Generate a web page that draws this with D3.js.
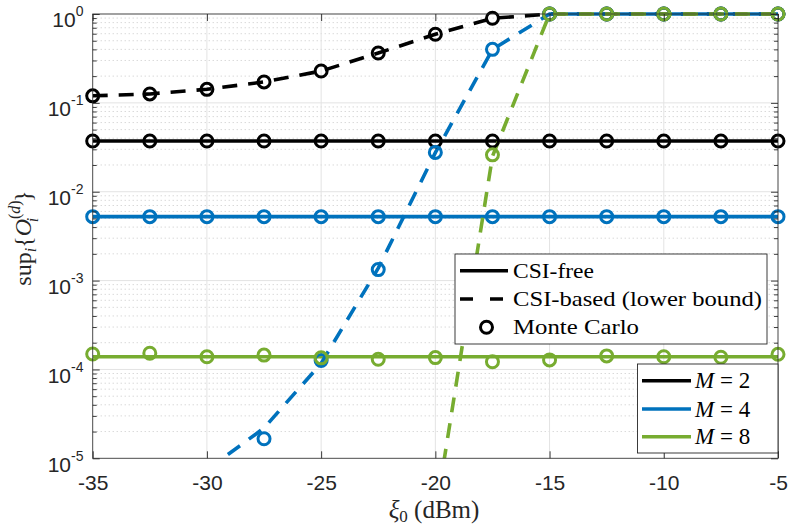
<!DOCTYPE html>
<html><head><meta charset="utf-8">
<script src="https://cdn.jsdelivr.net/npm/d3@7"></script>
<style>
html,body{margin:0;padding:0;background:#fff;}
svg{display:block;}
</style></head>
<body>
<svg id="c" width="789" height="527"></svg>
<script>
// ---------- data ----------
const xTicks = [-35, -30, -25, -20, -15, -10, -5];
const yTickExps = [0, -1, -2, -3, -4, -5];
const xs = [-35, -32.5, -30, -27.5, -25, -22.5, -20, -17.5, -15, -12.5, -10, -7.5, -5];

// CSI-free (analytical, constant)
const m2Free = [0.0372, 0.0372, 0.0372, 0.0372, 0.0372, 0.0372, 0.0372, 0.0372, 0.0372, 0.0372, 0.0372, 0.0372, 0.0372];
const m4Free = [5.24e-3, 5.24e-3, 5.24e-3, 5.24e-3, 5.24e-3, 5.24e-3, 5.24e-3, 5.24e-3, 5.24e-3, 5.24e-3, 5.24e-3, 5.24e-3, 5.24e-3];
const m8Free = [1.39e-4, 1.39e-4, 1.39e-4, 1.39e-4, 1.39e-4, 1.39e-4, 1.39e-4, 1.39e-4, 1.39e-4, 1.39e-4, 1.39e-4, 1.39e-4, 1.39e-4];

// CSI-based lower bound
const m2BasedX = xs;
const m2Based = [0.120, 0.126, 0.142, 0.172, 0.228, 0.364, 0.591, 0.895, 1, 1, 1, 1, 1];
const m4BasedX = [-30, -27.5, -25, -22.5, -20, -17.5, -15, -12.5, -10, -7.5, -5];
const m4Based = [7.4e-6, 2.19e-5, 1.17e-4, 1.38e-3, 0.0275, 0.398, 1, 1, 1, 1, 1];
const m8BasedX = [-20, -17.5, -15, -12.5, -10, -7.5, -5];
const m8Based = [2.3e-6, 0.025, 1, 1, 1, 1, 1];

// Monte Carlo (null = below the axis)
const mc2Free = [0.0372, 0.0372, 0.0372, 0.0372, 0.0372, 0.0372, 0.0372, 0.0372, 0.0372, 0.0372, 0.0372, 0.0372, 0.0372];
const mc2Based = [0.120, 0.126, 0.142, 0.172, 0.228, 0.364, 0.591, 0.895, 1, 1, 1, 1, 1];
const mc4Free = [5.24e-3, 5.24e-3, 5.24e-3, 5.24e-3, 5.24e-3, 5.24e-3, 5.24e-3, 5.24e-3, 5.24e-3, 5.24e-3, 5.24e-3, 5.24e-3, 5.24e-3];
const mc4Based = [null, null, null, 1.66e-5, 1.26e-4, 1.33e-3, 0.0277, 0.40, 1, 1, 1, 1, 1];
const mc8Free = [1.49e-4, 1.52e-4, 1.39e-4, 1.45e-4, 1.35e-4, 1.30e-4, 1.36e-4, 1.22e-4, 1.28e-4, 1.42e-4, 1.39e-4, 1.37e-4, 1.48e-4];
const mc8Based = [null, null, null, null, null, null, null, 0.026, 1, 1, 1, 1, 1];

const typeLabels = ["CSI-free", "CSI-based (lower bound)", "Monte Carlo"];
const mLabels = ["2", "4", "8"];
const colors = ["#000000", "#0072BD", "#77AC30"];

// ---------- layout ----------
const L = 92.7, R = 778, T = 14, B = 458.3;
const svg = d3.select("#c");
const x = d3.scaleLinear().domain([-35, -5]).range([L, R]);
const y = d3.scaleLog().domain([1e-5, 1]).range([B, T]);
const axisCol = "#262626";
const sans = "'Liberation Sans', Arial, Helvetica, sans-serif";
const serif = "'Liberation Serif', 'Times New Roman', serif";

// grid
const minorVals = [];
for (let e = -5; e < 0; e++) for (let k = 2; k <= 9; k++) minorVals.push(k * Math.pow(10, e));
const decades = yTickExps.map(e => Math.pow(10, e));
const g = svg.append("g");
g.selectAll(".mg").data(minorVals).enter().append("line")
  .attr("x1", L).attr("x2", R).attr("y1", d => y(d)).attr("y2", d => y(d))
  .attr("stroke", "#c8c8c8").attr("stroke-width", 1).attr("stroke-dasharray", "1,3");
g.selectAll(".Mg").data(decades).enter().append("line")
  .attr("x1", L).attr("x2", R).attr("y1", d => y(d)).attr("y2", d => y(d))
  .attr("stroke", "#e3e3e3").attr("stroke-width", 1);
g.selectAll(".Vg").data(xTicks).enter().append("line")
  .attr("y1", T).attr("y2", B).attr("x1", d => x(d)).attr("x2", d => x(d))
  .attr("stroke", "#e3e3e3").attr("stroke-width", 1);

// clip
svg.append("defs").append("clipPath").attr("id", "clip")
  .append("rect").attr("x", L).attr("y", T - 4).attr("width", R - L + 3).attr("height", B - T + 4);

const line = d3.line().x(d => x(d[0])).y(d => y(d[1]));
const pl = svg.append("g").attr("clip-path", "url(#clip)");
const LW = 3.6, DASH = "15,11";

const freeSeries = [m2Free, m4Free, m8Free];
freeSeries.forEach((s, i) => {
  pl.append("path").datum(xs.map((v, j) => [v, s[j]]))
    .attr("d", line).attr("fill", "none").attr("stroke", colors[i]).attr("stroke-width", LW);
});
const basedSeries = [[m2BasedX, m2Based], [m4BasedX, m4Based], [m8BasedX, m8Based]];
basedSeries.forEach((s, i) => {
  pl.append("path").datum(s[0].map((v, j) => [v, s[1][j]]))
    .attr("d", line).attr("fill", "none").attr("stroke", colors[i]).attr("stroke-width", LW)
    .attr("stroke-dasharray", DASH);
});

// markers
const mcSets = [[mc2Free, 0], [mc2Based, 0], [mc4Free, 1], [mc4Based, 1], [mc8Free, 2], [mc8Based, 2]];
const mk = svg.append("g");
mcSets.forEach(([s, ci]) => {
  mk.selectAll(null).data(xs.map((v, j) => [v, s[j]]).filter(d => d[1] !== null && d[1] >= 1e-5))
    .enter().append("circle")
    .attr("cx", d => x(d[0])).attr("cy", d => y(d[1])).attr("r", 6)
    .attr("fill", "none").attr("stroke", colors[ci]).attr("stroke-width", 3);
});

// axes
function styleAxis(sel) {
  sel.select(".domain").remove();
  sel.selectAll(".tick line").attr("stroke", axisCol).attr("stroke-width", 0.9);
}
const xb = svg.append("g").attr("transform", `translate(0,${B})`)
  .call(d3.axisBottom(x).tickValues(xTicks).tickSize(-7).tickFormat(d3.format("d")));
styleAxis(xb);
xb.selectAll(".tick text").attr("y", 31.7).attr("dy", 0)
  .attr("font-family", sans).attr("font-size", 21).attr("fill", axisCol)
  .text(d => String(d).replace("\u2212", "-"));
const xt = svg.append("g").attr("transform", `translate(0,${T})`)
  .call(d3.axisTop(x).tickValues(xTicks).tickSize(-7).tickFormat(""));
styleAxis(xt);

const yl = svg.append("g").attr("transform", `translate(${L},0)`)
  .call(d3.axisLeft(y).tickValues(decades).tickSize(-7).tickFormat(""));
styleAxis(yl);
const ylm = svg.append("g").attr("transform", `translate(${L},0)`)
  .call(d3.axisLeft(y).tickValues(minorVals).tickSize(-4).tickFormat(""));
styleAxis(ylm);
const yr = svg.append("g").attr("transform", `translate(${R},0)`)
  .call(d3.axisRight(y).tickValues(decades).tickSize(-7).tickFormat(""));
styleAxis(yr);
const yrm = svg.append("g").attr("transform", `translate(${R},0)`)
  .call(d3.axisRight(y).tickValues(minorVals).tickSize(-4).tickFormat(""));
styleAxis(yrm);

// y tick labels 10^e
yTickExps.forEach(e => {
  const t = svg.append("text").attr("x", 83.5).attr("y", y(Math.pow(10, e)) + 13.4)
    .attr("text-anchor", "end").attr("font-family", sans).attr("fill", axisCol);
  t.append("tspan").attr("font-size", 21).text("10");
  t.append("tspan").attr("font-size", 14).attr("dy", -11).text(String(e));
});

// box
svg.append("rect").attr("x", L).attr("y", T).attr("width", R - L).attr("height", B - T)
  .attr("fill", "none").attr("stroke", axisCol).attr("stroke-width", 0.9).attr("stroke-opacity", 0.85);

// x label
const xlab = svg.append("text").attr("x", 434).attr("y", 518).attr("text-anchor", "middle")
  .attr("font-family", serif).attr("font-size", 25).attr("fill", axisCol);
xlab.append("tspan").attr("font-style", "italic").text("ξ");
xlab.append("tspan").attr("font-size", 17).attr("dy", 4).text("0");
xlab.append("tspan").attr("dy", -4).text("\u00a0(dBm)");

// y label
const ylab = svg.append("text").attr("transform", "translate(31,238) rotate(-90)")
  .attr("text-anchor", "middle").attr("font-family", serif).attr("font-size", 24).attr("fill", axisCol);
ylab.append("tspan").text("sup");
ylab.append("tspan").attr("font-size", 16).attr("font-style", "italic").attr("dy", 5).text("i");
ylab.append("tspan").attr("dy", -5).text("{");
ylab.append("tspan").attr("font-style", "italic").text("O");
ylab.append("tspan").attr("font-size", 16).attr("dy", -11).text("(");
ylab.append("tspan").attr("font-size", 16).attr("font-style", "italic").text("d");
ylab.append("tspan").attr("font-size", 16).text(")");
ylab.append("tspan").attr("font-size", 16).attr("font-style", "italic").attr("dx", -22).attr("dy", 18).text("i");
ylab.append("tspan").attr("dx", 16).attr("dy", -7).text("}");

// legend 1
const lg1 = svg.append("g");
lg1.append("rect").attr("x", 455).attr("y", 254).attr("width", 312).attr("height", 90)
  .attr("fill", "#fff").attr("stroke", axisCol).attr("stroke-width", 0.9);
const rows1 = [270.7, 299, 327.3];
lg1.append("line").attr("x1", 460).attr("x2", 508).attr("y1", rows1[0]).attr("y2", rows1[0])
  .attr("stroke", "#000").attr("stroke-width", LW);
lg1.append("line").attr("x1", 460).attr("x2", 508).attr("y1", rows1[1]).attr("y2", rows1[1])
  .attr("stroke", "#000").attr("stroke-width", LW).attr("stroke-dasharray", "13,17");
lg1.append("circle").attr("cx", 486.5).attr("cy", rows1[2]).attr("r", 6)
  .attr("fill", "none").attr("stroke", "#000").attr("stroke-width", 3);
const widths1 = [81, 249, 126];
typeLabels.forEach((t, i) => {
  lg1.append("text").attr("x", 513).attr("y", rows1[i] + 7).attr("font-family", serif)
    .attr("font-size", 21).attr("fill", "#000")
    .attr("textLength", widths1[i]).attr("lengthAdjust", "spacingAndGlyphs").text(t);
});

// legend 2
const lg2 = svg.append("g");
lg2.append("rect").attr("x", 637.5).attr("y", 364).attr("width", 140.5).attr("height", 89)
  .attr("fill", "#fff").attr("stroke", axisCol).attr("stroke-width", 0.9);
const rows2 = [380.7, 409, 436.7];
mLabels.forEach((m, i) => {
  lg2.append("line").attr("x1", 642).attr("x2", 691).attr("y1", rows2[i]).attr("y2", rows2[i])
    .attr("stroke", colors[i]).attr("stroke-width", LW);
  const t = lg2.append("text").attr("x", 695).attr("y", rows2[i] + 7.5).attr("font-family", serif)
    .attr("font-size", 23).attr("fill", "#000");
  t.append("tspan").attr("font-style", "italic").text("M");
  t.append("tspan").text("\u00a0=\u00a0" + m);
});
</script>
</body></html>
